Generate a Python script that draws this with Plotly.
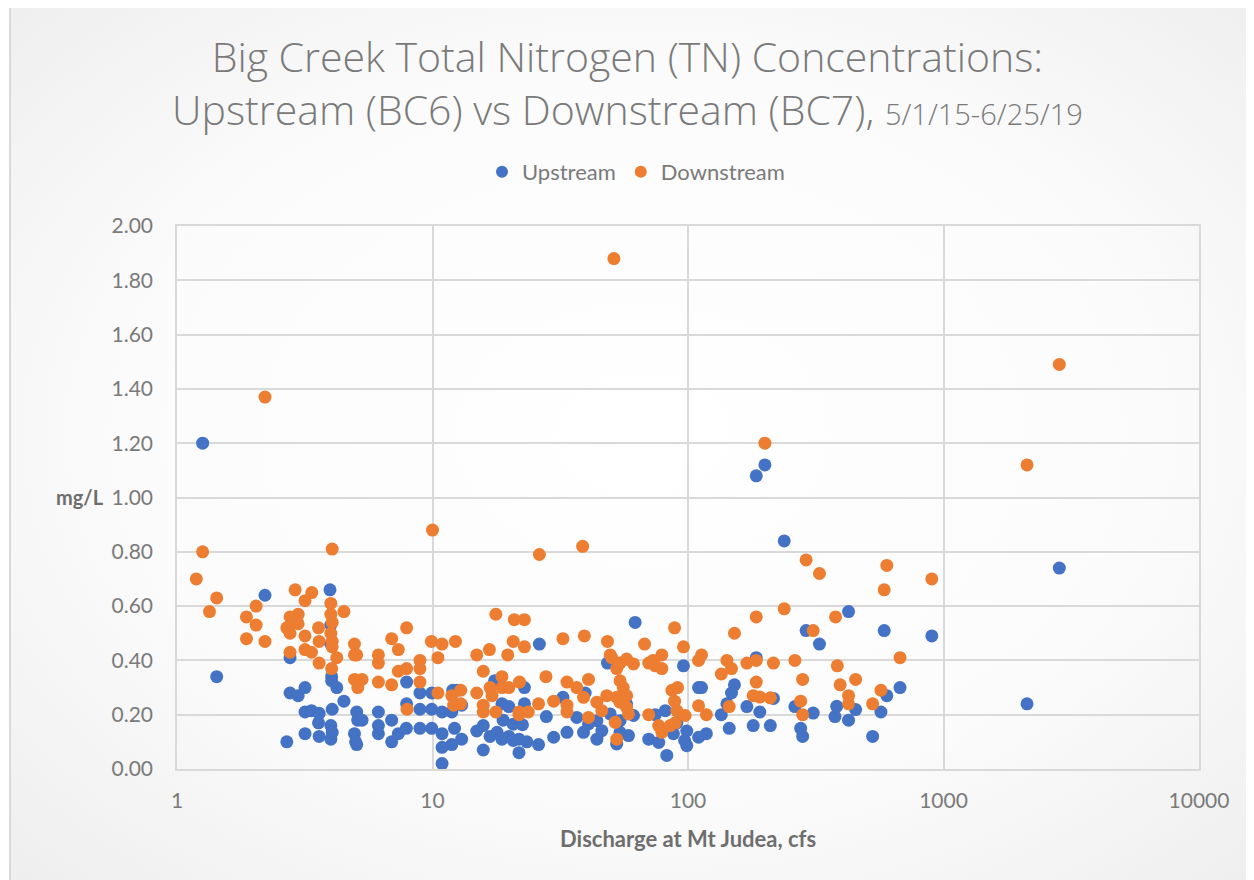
import base64
import plotly.graph_objects as go

# ---------------- data ----------------
up_x = [1.26, 2.21, 1.43, 3.97, 2.77, 4.0, 4.0, 4.03, 3.17, 2.77, 2.98, 4.03, 4.22, 4.5,
        3.17, 3.36, 3.6, 3.58, 4.05, 5.05, 5.1, 5.3, 6.14, 6.14, 6.14, 6.92, 2.69, 3.17,
        3.6, 4.0, 4.05, 4.0, 4.95, 5.0, 5.05, 6.92, 7.35, 7.9, 7.92, 7.92, 8.93, 8.93,
        8.93, 9.93, 9.93, 9.93,
        12.0, 12.5, 10.9, 11.9, 13.0, 10.9, 12.2, 13.0, 10.9, 11.9, 10.9, 14.9, 15.8, 15.8,
        16.8, 17.9, 18.7, 19.9, 20.7, 21.8, 21.8, 23.4, 26.0, 17.5, 18.7, 19.9, 18.9, 20.7,
        22.5, 22.9, 22.9, 27.9, 29.8, 32.4, 33.6, 36.7, 39.6, 39.0, 40.8, 44.0, 44.0, 46.0,
        49.6, 52.6, 54.2, 57.5, 58.5, 61.2, 54.2, 70.2, 76.8, 82.6, 74.5, 81.5, 87.7, 90.4,
        98.9, 98.9, 62.1, 26.2, 96.0, 48.4,
        200, 185, 238, 425, 290, 327, 586, 900, 185, 110, 113, 152, 148, 142, 135, 170, 191,
        216, 262, 309, 382, 376, 425, 453, 569, 600, 676, 145, 180, 210, 276, 281, 528, 110,
        118, 97, 2840, 2123]
up_y = [1.20, 0.64, 0.34, 0.66, 0.41, 0.53, 0.46, 0.34, 0.30, 0.28, 0.27, 0.325, 0.30, 0.25,
        0.21, 0.215, 0.205, 0.17, 0.22, 0.21, 0.18, 0.18, 0.21, 0.16, 0.13, 0.18, 0.10, 0.13,
        0.12, 0.16, 0.135, 0.11, 0.13, 0.10, 0.09, 0.10, 0.13, 0.15, 0.24, 0.32, 0.28, 0.22,
        0.15, 0.28, 0.22, 0.15,
        0.29, 0.29, 0.21, 0.21, 0.235, 0.13, 0.15, 0.11, 0.08, 0.09, 0.02, 0.14, 0.16, 0.07,
        0.12, 0.135, 0.11, 0.12, 0.105, 0.11, 0.06, 0.10, 0.09, 0.325, 0.24, 0.23, 0.18, 0.165,
        0.163, 0.30, 0.24, 0.193, 0.117, 0.264, 0.135, 0.19, 0.28, 0.135, 0.166, 0.178, 0.11, 0.141,
        0.203, 0.092, 0.178, 0.24, 0.123, 0.197, 0.135, 0.11, 0.098, 0.05, 0.20, 0.215, 0.13, 0.17,
        0.086, 0.14, 0.54, 0.46, 0.38, 0.39,
        1.12, 1.08, 0.84, 0.58, 0.51, 0.46, 0.51, 0.49, 0.41, 0.30, 0.30, 0.31, 0.28, 0.24, 0.20,
        0.23, 0.21, 0.26, 0.23, 0.206, 0.231, 0.193, 0.18, 0.219, 0.21, 0.27, 0.30, 0.15, 0.16,
        0.16, 0.15, 0.12, 0.12, 0.117, 0.13, 0.105, 0.74, 0.24]

down_x = [1.26, 1.19, 1.43, 1.34, 4.05, 10.0, 1.87, 2.04, 2.04, 1.87, 2.21, 2.9, 3.37, 3.17,
          2.77, 2.98, 2.69, 2.81, 2.98, 2.77, 3.17, 3.58, 3.6, 3.17, 3.36, 2.77, 4.0, 4.0,
          4.05, 4.0, 4.05, 4.05, 4.5, 4.22, 3.6, 4.03, 4.95, 4.95, 5.05, 4.95, 5.3, 5.1,
          6.14, 6.14, 6.14, 6.92, 7.35, 7.92, 7.35, 7.92, 8.93, 8.93, 8.93, 6.92, 7.95, 9.9,
          10.5, 10.5, 2.21, 51.3,
          26.2, 38.7, 17.7, 20.9, 22.9, 10.9, 12.3, 14.9, 16.7, 19.7, 20.7, 22.9, 32.4, 39.3,
          48.4, 49.6, 67.6, 79.0, 88.6, 96.0, 15.8, 18.7, 16.8, 18.7, 19.9, 21.9, 27.8, 33.6,
          40.8, 14.9, 17.1, 12.9, 11.9, 12.1, 12.9, 15.8, 15.8, 17.7, 21.8, 23.7, 26.0, 29.8,
          33.6, 33.6, 21.8, 36.7, 39.0, 44.0, 48.1, 52.6, 55.8, 57.5, 54.2, 52.6, 50.3, 54.2,
          57.5, 61.2, 54.2, 57.5, 58.5, 51.9, 52.6, 40.8, 46.0, 70.2, 76.8, 79.0, 85.2, 89.1,
          86.5, 91.0, 88.6, 90.4, 97.5, 70.2, 74.5, 79.0, 73.0,
          200, 290, 327, 600, 586, 900, 238, 185, 378, 152, 309, 676, 110, 113, 142, 148, 135,
          170, 185, 216, 262, 185, 281, 384, 453, 394, 180, 191, 210, 145, 276, 281, 425, 425,
          528, 569, 118, 110, 2840, 2123]
down_y = [0.80, 0.70, 0.63, 0.58, 0.81, 0.88, 0.56, 0.60, 0.53, 0.48, 0.47, 0.66, 0.65, 0.62,
          0.56, 0.57, 0.52, 0.535, 0.535, 0.50, 0.49, 0.52, 0.47, 0.44, 0.43, 0.43, 0.61, 0.57,
          0.54, 0.50, 0.47, 0.45, 0.58, 0.41, 0.39, 0.37, 0.46, 0.42, 0.42, 0.33, 0.33, 0.30,
          0.42, 0.39, 0.32, 0.48, 0.44, 0.52, 0.36, 0.37, 0.40, 0.37, 0.32, 0.31, 0.22, 0.47,
          0.41, 0.28, 1.37, 1.88,
          0.79, 0.82, 0.57, 0.55, 0.55, 0.46, 0.47, 0.42, 0.44, 0.42, 0.47, 0.45, 0.48, 0.49,
          0.47, 0.42, 0.46, 0.42, 0.52, 0.45, 0.36, 0.34, 0.30, 0.30, 0.30, 0.32, 0.34, 0.32,
          0.33, 0.28, 0.27, 0.29, 0.27, 0.235, 0.24, 0.235, 0.21, 0.21, 0.21, 0.21, 0.24, 0.25,
          0.235, 0.21, 0.20, 0.30, 0.264, 0.246, 0.27, 0.264, 0.30, 0.27, 0.325, 0.37, 0.41, 0.39,
          0.405, 0.387, 0.246, 0.227, 0.203, 0.172, 0.11, 0.19, 0.215, 0.20, 0.16, 0.135, 0.16, 0.17,
          0.29, 0.30, 0.25, 0.215, 0.197, 0.39, 0.38, 0.37, 0.40,
          1.20, 0.77, 0.72, 0.75, 0.66, 0.70, 0.59, 0.56, 0.56, 0.50, 0.51, 0.41, 0.40, 0.42, 0.40,
          0.37, 0.35, 0.39, 0.40, 0.39, 0.40, 0.32, 0.33, 0.38, 0.33, 0.31, 0.27, 0.265, 0.262,
          0.23, 0.25, 0.20, 0.27, 0.24, 0.24, 0.29, 0.20, 0.233, 1.49, 1.12]

series_names = ["Upstream", "Downstream"]
x_tick_vals = [1, 10, 100, 1000, 10000]
x_tick_text = ["1", "10", "100", "1000", "10000"]
y_tick_vals = [0.0, 0.2, 0.4, 0.6, 0.8, 1.0, 1.2, 1.4, 1.6, 1.8, 2.0]

# ---------------- styling ----------------
# the page body adds an 8px offset; figure coordinates = page coordinates - 8
OFF = 8
W, H = 1246, 872
L, R, T, B = 169, 55, 218, 111
PW, PH = W - L - R, H - T - B
FONT = "Lato"
TFONT = "Open Sans"
GRAY = "#7a7a7a"
GRID = "#d9d9d9"


def px(xp):
    return (xp - OFF - L) / PW


def py(yp):
    return (H - B - (yp - OFF)) / PH


svg = f'''<svg xmlns="http://www.w3.org/2000/svg" width="{W}" height="{H}" viewBox="0 0 {W} {H}">
<defs><radialGradient id="g" cx="50%" cy="48%" r="75%">
<stop offset="0" stop-color="#ffffff"/><stop offset="0.55" stop-color="#fbfbfb"/><stop offset="1" stop-color="#ececec"/>
</radialGradient></defs>
<rect x="0" y="0" width="{W}" height="{H}" fill="#ffffff"/>
<rect x="2" y="-1" width="{W+20}" height="{H+20}" fill="url(#g)" stroke="#d9d9d9" stroke-width="2"/>
</svg>'''
svg_uri = "data:image/svg+xml;base64," + base64.b64encode(svg.encode()).decode()

title_text = ("Big Creek Total Nitrogen (TN) Concentrations:<br>"
              "Upstream (BC6) vs Downstream (BC7), "
              "<span style='font-size:29px'>5/1/15-6/25/19</span>")

fig = go.Figure()
fig.add_trace(go.Scatter(x=up_x, y=up_y, mode="markers", name=series_names[0],
                         marker=dict(color="#4472C4", size=13)))
fig.add_trace(go.Scatter(x=down_x, y=down_y, mode="markers", name=series_names[1],
                         marker=dict(color="#ED7D31", size=13)))

fig.update_layout(
    width=W, height=H,
    margin=dict(l=L, r=R, t=T, b=B),
    paper_bgcolor="#ffffff",
    plot_bgcolor="rgba(0,0,0,0)",
    font=dict(family=FONT, color=GRAY),
    showlegend=True,
    legend=dict(orientation="h", x=px(636), xanchor="center", y=py(172), yanchor="middle",
                font=dict(size=22, color=GRAY), bgcolor="rgba(0,0,0,0)",
                itemsizing="constant", itemwidth=30, tracegroupgap=0),
    images=[dict(source=svg_uri, xref="paper", yref="paper",
                 x=-L / PW, y=1 + T / PH, sizex=W / PW, sizey=H / PH,
                 sizing="stretch", xanchor="left", yanchor="top", layer="below")],
    xaxis=dict(type="log", range=[0, 4], tickvals=x_tick_vals, ticktext=x_tick_text,
               showgrid=True, gridcolor=GRID, gridwidth=1.5,
               showline=True, linecolor=GRID, linewidth=1.5, mirror=True,
               zeroline=False, ticks="outside", ticklen=12, tickcolor="rgba(0,0,0,0)",
               tickfont=dict(size=21, color=GRAY, family=FONT)),
    yaxis=dict(range=[0, 2.0], tickvals=y_tick_vals, tickformat=".2f",
               showgrid=True, gridcolor=GRID, gridwidth=1.5,
               showline=True, linecolor=GRID, linewidth=1.5, mirror=True,
               zeroline=False, ticks="outside", ticklen=18, tickcolor="rgba(0,0,0,0)",
               tickfont=dict(size=21, color=GRAY, family=FONT)),
    annotations=[
        dict(text=title_text, xref="paper", yref="paper", x=px(627), y=py(83),
             xanchor="center", yanchor="middle", align="center", showarrow=False,
             font=dict(size=41, color=GRAY, family=TFONT, weight=300)),
        dict(text="<b>mg/L</b>", xref="paper", yref="paper",
             x=px(80), y=py(497), xanchor="center", yanchor="middle", showarrow=False,
             font=dict(size=20, color="#6e6e6e", family=FONT)),
        dict(text="<b>Discharge at Mt Judea, cfs</b>", xref="paper", yref="paper",
             x=px(688), y=py(838), xanchor="center", yanchor="middle",
             showarrow=False, font=dict(size=22, color="#6e6e6e", family=FONT)),
    ],
)

fig.write_html("out.html")
